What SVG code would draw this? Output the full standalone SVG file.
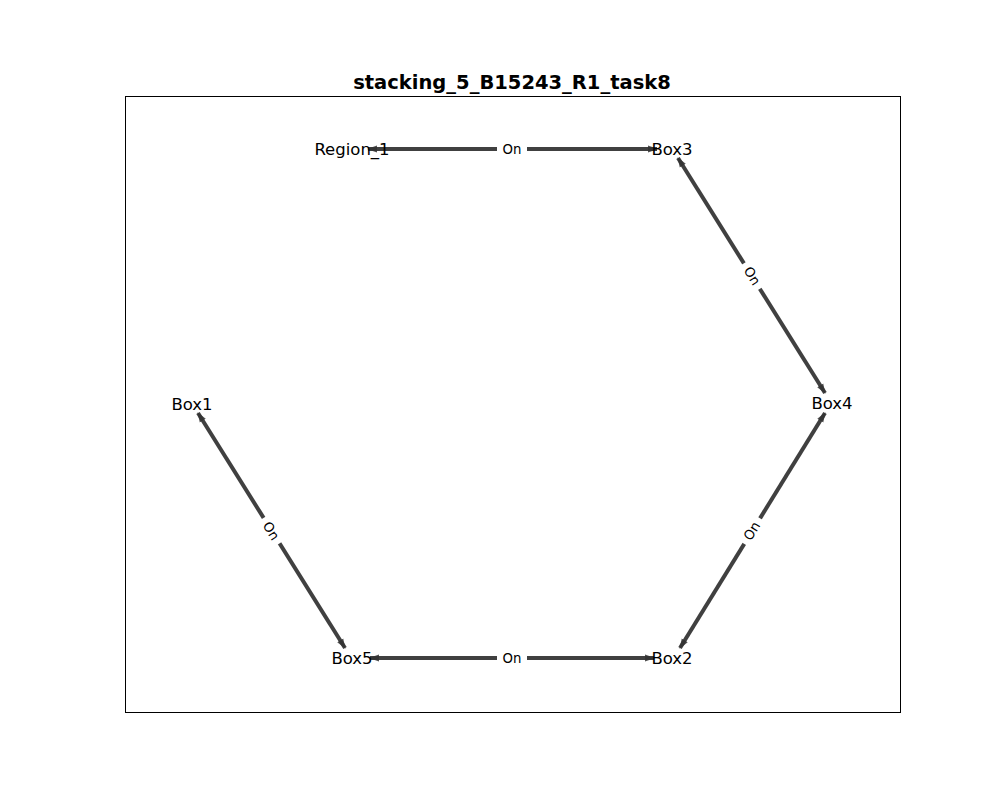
<svg xmlns="http://www.w3.org/2000/svg" width="1000" height="800" viewBox="0 0 1000 800">
<style>
.edge{stroke:#404040;stroke-width:4;fill:none;marker-start:url(#ah);marker-end:url(#ah)}
.nl{font-family:"DejaVu Sans",sans-serif;font-size:16.5px;fill:#000;text-anchor:middle;dominant-baseline:central}
.el{font-family:"DejaVu Sans",sans-serif;font-size:13.3px;fill:#000;text-anchor:middle;dominant-baseline:central}
.bg{fill:#fff}
</style>
<defs>
<marker id="ah" viewBox="0 0 10 8" refX="9" refY="4" markerWidth="10" markerHeight="8" markerUnits="userSpaceOnUse" orient="auto-start-reverse">
<path d="M0,0.5 L10,4 L0,7.5 z" fill="#333" fill-opacity="0.85"/>
</marker>
</defs>
<rect width="1000" height="800" fill="#fff"/>
<rect x="125.5" y="96.5" width="775" height="616" fill="none" stroke="#000" stroke-width="1"/>
<text x="512" y="82" font-family="DejaVu Sans,sans-serif" font-size="19.5px" font-weight="bold" text-anchor="middle" dominant-baseline="central">stacking_5_B15243_R1_task8</text>
<g id="connectors">
<line class="edge" x1="368" y1="149" x2="657" y2="149"/>
<line class="edge" x1="678" y1="158" x2="825" y2="393"/>
<line class="edge" x1="825" y1="413" x2="680" y2="648"/>
<line class="edge" x1="198" y1="413" x2="345" y2="648"/>
<line class="edge" x1="370" y1="658" x2="654" y2="658"/>
<g transform="translate(512,149)"><rect class="bg" x="-15" y="-9" width="30" height="18"/><text class="el">On</text></g>
<g transform="translate(752,276) rotate(58)"><rect class="bg" x="-15" y="-9" width="30" height="18"/><text class="el">On</text></g>
<g transform="translate(752,531) rotate(-58)"><rect class="bg" x="-15" y="-9" width="30" height="18"/><text class="el">On</text></g>
<g transform="translate(271,531) rotate(58)"><rect class="bg" x="-15" y="-9" width="30" height="18"/><text class="el">On</text></g>
<g transform="translate(512,658)"><rect class="bg" x="-15" y="-9" width="30" height="18"/><text class="el">On</text></g>
</g>
<g id="Region_1"><text class="nl" x="352" y="149">Region_1</text></g>
<g id="Box3"><text class="nl" x="672" y="149">Box3</text></g>
<g id="Box4"><text class="nl" x="832" y="403">Box4</text></g>
<g id="Box2"><text class="nl" x="672" y="658">Box2</text></g>
<g id="Box5"><text class="nl" x="352" y="658">Box5</text></g>
<g id="Box1"><text class="nl" x="192" y="404">Box1</text></g>
</svg>
